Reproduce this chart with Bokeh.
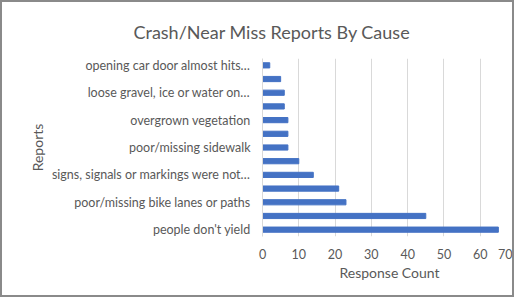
from bokeh.plotting import figure
from bokeh.models import Range1d, FixedTicker
from bokeh.embed import file_html
from bokeh.resources import INLINE

# Data (bottom to top)
labels = ["people don't yield", "", "poor/missing bike lanes or paths", "",
          "signs, signals or markings were not…", "", "poor/missing sidewalk", "",
          "overgrown vegetation", "", "loose gravel, ice or water on…", "",
          "opening car door almost hits…"]
values = [65, 45, 23, 21, 14, 10, 7, 7, 7, 6, 6, 5, 2]
x_ticks = [0, 10, 20, 30, 40, 50, 60, 70]
title_text = "Crash/Near Miss Reports By Cause"
x_title = "Response Count"
y_title = "Reports"

positions = list(range(1, len(values) + 1))
FONT = "Lato"
GRAY = "#595959"

p = figure(width=514, height=297, output_backend="svg", toolbar_location=None,
           x_range=Range1d(0, 70), y_range=Range1d(0.5, len(values) + 0.5),
           min_border_left=260, min_border_right=0, min_border_top=56,
           min_border_bottom=63, title=title_text)
p.outline_line_color = None
p.styles = {"border": "2px solid #8a8a8a", "box-sizing": "border-box"}

p.title.align = "left"
p.title.offset = -129
p.title.standoff = 32
p.title.text_font = FONT
p.title.text_font_size = "18px"
p.title.text_font_style = "normal"
p.title.text_color = GRAY

p.hbar(y=positions, right=values, left=0, height=0.38, color="#4472C4")

p.xgrid.ticker = FixedTicker(ticks=x_ticks)
p.xgrid.grid_line_color = "#d9d9d9"
p.ygrid.grid_line_color = None

xa = p.xaxis[0]
xa.ticker = FixedTicker(ticks=x_ticks)
xa.axis_line_color = None
xa.major_tick_line_color = None
xa.minor_tick_line_color = None
xa.major_label_text_font = FONT
xa.major_label_text_font_size = "12.5px"
xa.major_label_text_color = GRAY
xa.major_label_standoff = 6
xa.axis_label = x_title
xa.axis_label_text_font = FONT
xa.axis_label_text_font_size = "14px"
xa.axis_label_text_font_style = "normal"
xa.axis_label_text_color = GRAY
xa.axis_label_standoff = 2

ya = p.yaxis[0]
lab_pos = [pos for pos, l in zip(positions, labels) if l]
ya.ticker = FixedTicker(ticks=lab_pos)
ya.major_label_overrides = {pos: l for pos, l in zip(positions, labels) if l}
ya.axis_line_color = "#d9d9d9"
ya.major_tick_line_color = None
ya.minor_tick_line_color = None
ya.major_label_text_font = FONT
ya.major_label_text_font_size = "12.5px"
ya.major_label_text_color = GRAY
ya.major_label_standoff = 6
ya.axis_label = y_title
ya.axis_label_text_font = FONT
ya.axis_label_text_font_size = "14px"
ya.axis_label_text_font_style = "normal"
ya.axis_label_text_color = GRAY
ya.axis_label_standoff = 3

open("out.html", "w").write(file_html(p, INLINE))
